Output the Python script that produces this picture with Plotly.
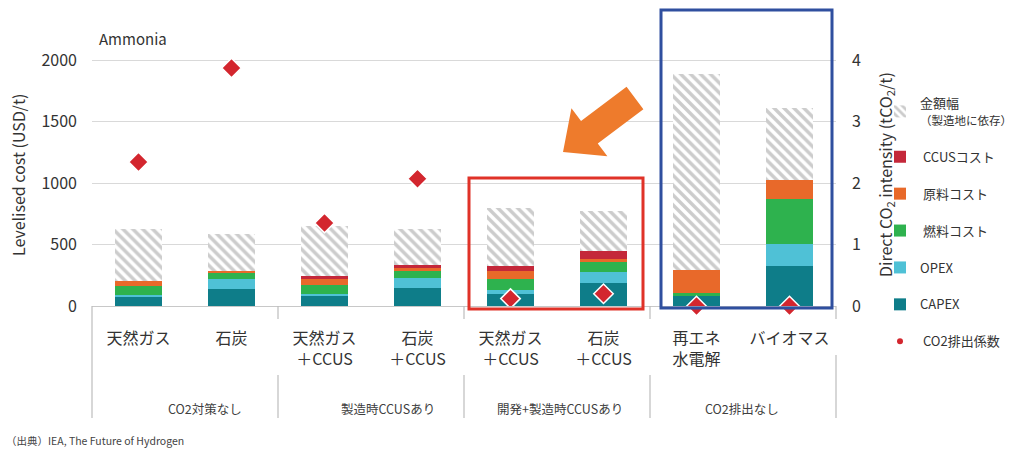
import plotly.graph_objects as go

# ---------------- data ----------------
categories = ["天然ガス", "石炭", "天然ガス<br>＋CCUS", "石炭<br>＋CCUS",
              "天然ガス<br>＋CCUS", "石炭<br>＋CCUS", "再エネ<br>水電解", "バイオマス"]
groups = ["CO2対策なし", "製造時CCUSあり", "開発+製造時CCUSあり", "CO2排出なし"]
group_label_pos = [0.72, 2.68, 4.53, 6.49]

capex = [70, 138, 78, 150, 100, 184, 81, 326]
opex = [20, 82, 20, 75, 28, 95, 0, 180]
fuel = [70, 54, 72, 60, 88, 76, 25, 360]
feedstock = [40, 13, 50, 25, 70, 25, 187, 158]
ccus = [0, 0, 20, 25, 42, 70, 0, 0]
range_top = [630, 585, 650, 626, 795, 772, 1886, 1612]
co2 = [2.34, 3.87, 1.35, 2.07, 0.12, 0.20, 0.0, 0.0]

left_ticks = [0, 500, 1000, 1500, 2000]
right_ticks = [0, 1, 2, 3, 4]

# ---------------- layout geometry (pixels) ----------------
W, H = 1020, 454
PL, PR, PT, PB = 92, 836, 10, 306
YMAX = (PB - PT) / 0.123  # keeps 2000 at the 60px gridline

def px2x(px):
    return (px - PL) / (PR - PL)

def py2y(py):
    return (PB - py) / (PB - PT)

FONT = "Noto Sans CJK JP"
TXT = "#404040"

C_CAPEX = "#0e7d89"
C_OPEX = "#4fc1d6"
C_FUEL = "#2eb24e"
C_FEED = "#e8692a"
C_CCUS = "#c4283a"
C_MARK = "#d3262e"

x = list(range(len(categories)))
stack_total = [a + b + c + d + e for a, b, c, d, e in zip(capex, opex, fuel, feedstock, ccus)]
hatch = [t - s for t, s in zip(range_top, stack_total)]

fig = go.Figure()

def add_bar(vals, name, color, rank):
    fig.add_trace(go.Bar(x=x, y=vals, name=name, width=0.5,
                         marker=dict(color=color, line=dict(width=0)),
                         legendgroup=name, legendrank=rank))

add_bar(capex, "CAPEX", C_CAPEX, 6)
add_bar(opex, "OPEX", C_OPEX, 5)
add_bar(fuel, " 燃料コスト", C_FUEL, 4)
add_bar(feedstock, " 原料コスト", C_FEED, 3)
add_bar(ccus, " CCUSコスト", C_CCUS, 2)
fig.add_trace(go.Bar(x=x, y=hatch, name="金額幅<br><span style='font-size:11.5px'>（製造地に依存）</span>",
                     width=0.5, legendgroup="range", legendrank=1,
                     marker=dict(color="white", line=dict(width=0),
                                 pattern=dict(shape="\\", fgcolor="#9a9a9a", bgcolor="white",
                                              size=7, solidity=0.5))))

fig.add_trace(go.Scatter(x=x, y=co2, yaxis="y2", mode="markers", showlegend=False,
                         cliponaxis=False,
                         marker=dict(symbol="diamond", size=15, color=C_MARK,
                                     line=dict(color="white", width=1.5))))
fig.add_trace(go.Scatter(x=[None], y=[None], mode="markers", name=" CO2排出係数",
                         legendgroup="co2", legendrank=7,
                         marker=dict(symbol="circle", size=6, color=C_MARK)))

shapes = []
# group dividers under the axis
bounds = [-0.5, 1.5, 3.5, 5.5, 7.5]
for i, b in enumerate(bounds):
    xp = (b + 0.5) / len(categories)
    if i == 0:
        segs = [(306, 418)]
    elif i == len(bounds) - 1:
        segs = [(306, 319), (355, 418)]
    else:
        segs = [(306, 319), (375, 418)]
    for y0, y1 in segs:
        shapes.append(dict(type="line", xref="paper", yref="paper", x0=xp, x1=xp,
                           y0=py2y(y0), y1=py2y(y1), line=dict(color="#bdbdbd", width=1.2)))

# highlight boxes
shapes.append(dict(type="rect", xref="paper", yref="paper",
                   x0=px2x(469), x1=px2x(643), y0=py2y(309), y1=py2y(178),
                   line=dict(color="#e03228", width=3)))
shapes.append(dict(type="rect", xref="paper", yref="paper",
                   x0=px2x(661), x1=px2x(832), y0=py2y(308), y1=py2y(10),
                   line=dict(color="#2f4f9f", width=3)))

# orange arrow
tail = (635, 98)
tip = (563, 152)
dx, dy = tip[0] - tail[0], tip[1] - tail[1]
L = (dx ** 2 + dy ** 2) ** 0.5
ux, uy = dx / L, dy / L
nx, ny = -uy, ux
hl, hw, sw = 33, 30, 14
bx, by = tip[0] - ux * hl, tip[1] - uy * hl
pts = [(tail[0] + nx * sw, tail[1] + ny * sw), (bx + nx * sw, by + ny * sw),
       (bx + nx * hw, by + ny * hw), tip, (bx - nx * hw, by - ny * hw),
       (bx - nx * sw, by - ny * sw), (tail[0] - nx * sw, tail[1] - ny * sw)]
path = "M " + " L ".join(f"{px2x(p[0]):.4f},{py2y(p[1]):.4f}" for p in pts) + " Z"
shapes.append(dict(type="path", xref="paper", yref="paper", path=path,
                   fillcolor="#ee7b2c", line=dict(width=0)))

annotations = []
for g, gx in zip(groups, group_label_pos):
    annotations.append(dict(x=gx, y=py2y(408), xref="x", yref="paper", text=g,
                            xanchor="center", yanchor="middle",
                            showarrow=False, font=dict(size=12.5, color=TXT, family=FONT)))
annotations.append(dict(x=px2x(97), y=py2y(38), xref="paper", yref="paper", text="Ammonia",
                        xanchor="left", yanchor="middle", showarrow=False,
                        font=dict(size=15, color="#333333", family=FONT)))
annotations.append(dict(x=px2x(18), y=py2y(175), xref="paper", yref="paper",
                        text="Levelised cost (USD/t)", textangle=-90, showarrow=False,
                        xanchor="center", yanchor="middle",
                        font=dict(size=16, color="#333333", family=FONT)))
annotations.append(dict(x=px2x(885), y=py2y(175), xref="paper", yref="paper",
                        text="Direct CO<sub>2</sub> intensity (tCO<sub>2</sub>/t)",
                        textangle=-90, showarrow=False, xanchor="center", yanchor="middle",
                        font=dict(size=16, color="#333333", family=FONT)))
annotations.append(dict(x=px2x(4), y=py2y(440), xref="paper", yref="paper",
                        text="（出典）IEA, The Future of Hydrogen", xanchor="left",
                        yanchor="middle", showarrow=False,
                        font=dict(size=10.5, color="#444444", family=FONT)))

fig.update_layout(
    width=W, height=H,
    margin=dict(l=PL, r=W - PR, t=PT, b=H - PB, autoexpand=False),
    barmode="stack", bargap=0.5,
    paper_bgcolor="white", plot_bgcolor="white",
    font=dict(family=FONT, color=TXT),
    xaxis=dict(range=[-0.5, 7.5], tickvals=x, ticktext=categories, showgrid=False,
               showline=True, linecolor="#c8c8c8", linewidth=1, ticks="", automargin=False,
               tickfont=dict(size=16, color="#333333"), ticklabelstandoff=18, zeroline=False),
    yaxis=dict(range=[0, YMAX], tickvals=left_ticks, showgrid=True, gridcolor="#d9d9d9",
               gridwidth=1, zeroline=False, showline=False, ticks="", automargin=False,
               tickfont=dict(size=16, color="#333333"), ticklabelstandoff=14),
    yaxis2=dict(range=[0, YMAX / 500], tickvals=right_ticks, overlaying="y", side="right",
                showgrid=False, zeroline=False, showline=False, ticks="", automargin=False,
                tickfont=dict(size=16, color="#333333"), ticklabelstandoff=15),
    legend=dict(x=px2x(880), y=py2y(88), xanchor="left", yanchor="top",
                traceorder="grouped", tracegroupgap=17, itemwidth=30,
                font=dict(size=13, color="#333333", family=FONT), bgcolor="rgba(0,0,0,0)"),
    shapes=shapes, annotations=annotations,
    showlegend=True,
)

fig.write_html("out.html")
